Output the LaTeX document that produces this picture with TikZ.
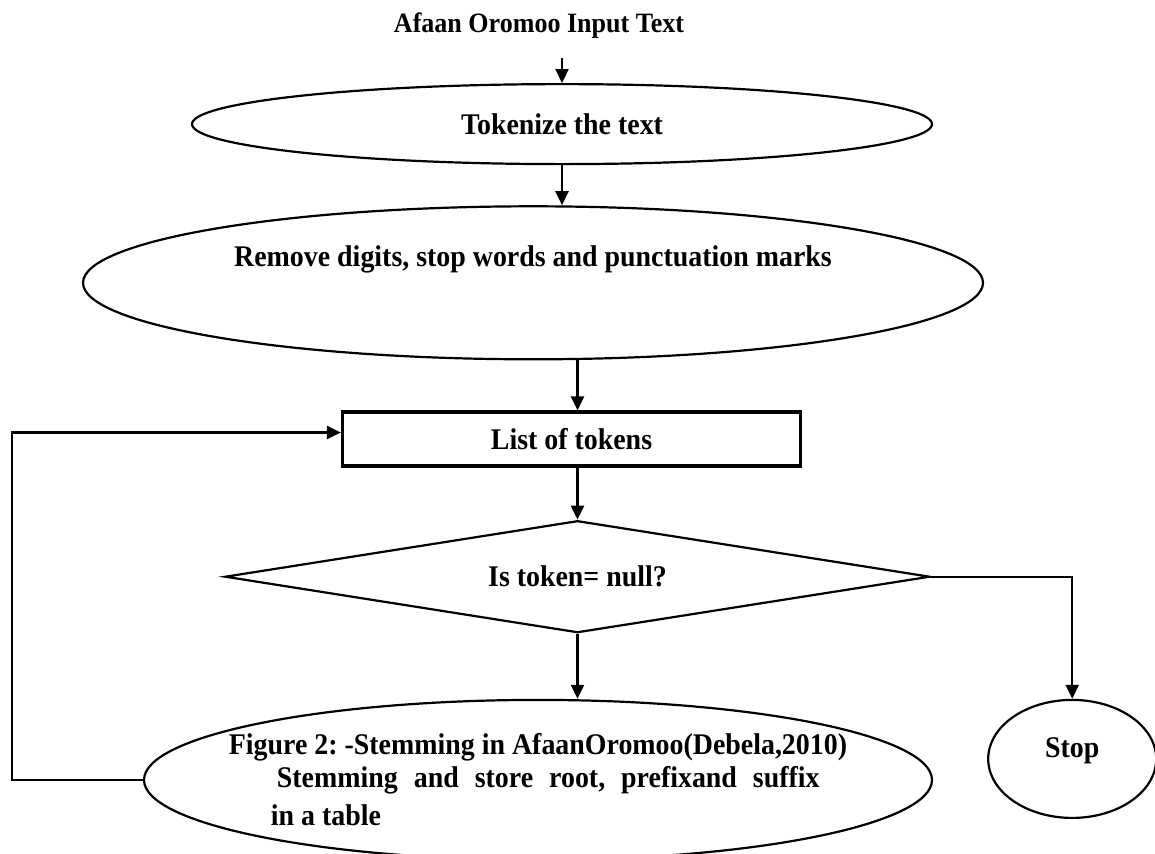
\documentclass[tikz,border=0pt]{standalone}
\usepackage{fontspec}
\setmainfont{Liberation Serif}[FakeStretch=0.93]
\usetikzlibrary{positioning, shapes.geometric, arrows.meta}

\begin{document}
\frenchspacing
\begin{tikzpicture}[
        x=1pt, y=1pt,
        font=\fontsize{15}{17}\selectfont\bfseries,
        line width=1.1pt,
        oval/.style={ellipse, draw, inner sep=0pt, align=center},
        process/.style={rectangle, draw, line width=1.6pt, inner sep=0pt, minimum width=229pt, minimum height=27pt},
        decision/.style={diamond, draw, inner sep=0pt, aspect=6.3, minimum width=352.5pt, minimum height=56pt},
        arrow/.style={-{Triangle[length=7pt, width=6.5pt]}}
    ]

    \useasboundingbox (0,0) rectangle (577.5,-426.5);

    % Nodes
    \node (title) [anchor=base, font=\fontsize{14}{16}\selectfont\bfseries] at (269.5,-16) {Afaan Oromoo Input Text};
    \coordinate (start) at (281,-29);
    \node (tokenize) [oval, minimum width=370pt, minimum height=40pt, below=25.5pt of title.base, xshift=11.5pt] {Tokenize the text};
    \node (remove) [oval, minimum width=450pt, minimum height=76.5pt, text height=10pt, text depth=26pt, below=20pt of tokenize, xshift=-14.5pt] {Remove digits, stop words and punctuation marks};
    \node (tokens) [process, below=25pt of remove, xshift=19.25pt] {List of tokens};
    \node (decide) [decision, below=26pt of tokens, xshift=3pt] {Is token= null?};
    \node (stem) [oval, align=left, inner xsep=-20pt, minimum width=394pt, minimum height=80pt, below=32.5pt of decide, xshift=-19.75pt]
        {Figure 2: -Stemming in AfaanOromoo(Debela,2010)\\[-0.5pt]
         \hspace*{24pt}{\spaceskip=8pt Stemming and store root, prefixand suffix}\\[2pt]
         \hspace*{21pt}in a table};
    \node (stop) [oval, minimum width=84pt, minimum height=59pt, text height=10pt, text depth=11pt, right=27pt of stem, yshift=10.5pt] {Stop};

    % Arrows
    \draw [arrow] (start) -- (tokenize.north);
    \draw [arrow] (tokenize) -- (remove.north -| tokenize);
    \draw [arrow] (remove.south -| decide) -- (tokens.north -| decide);
    \draw [arrow] (tokens.south -| decide) -- (decide.north);
    \draw [arrow] (decide.south) -- (stem.north -| decide);
    \draw [arrow] (decide.east) -| (stop.north);
    \draw [arrow] (stem.west) -- ++(-65.5,0) |- ([yshift=3.25pt]tokens.west);

\end{tikzpicture}
\end{document}
